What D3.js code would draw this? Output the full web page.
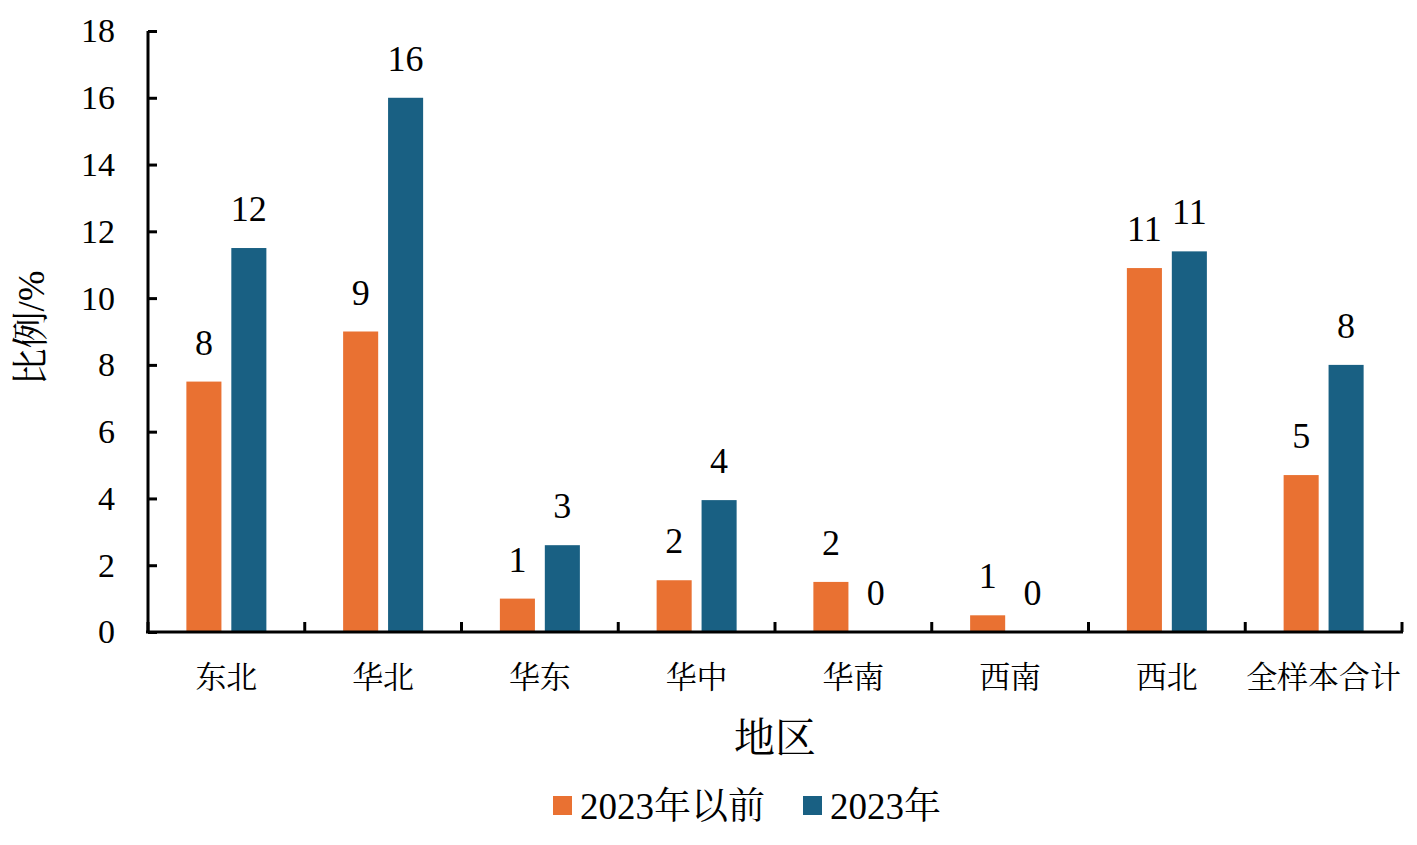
<!DOCTYPE html>
<html><head><meta charset="utf-8">
<script src="https://cdn.jsdelivr.net/npm/d3@7/dist/d3.min.js"></script>
<style>
body{margin:0;background:#fff}svg{display:block}
svg text{font-family:'Liberation Serif','Times New Roman',Tinos,'DejaVu Serif','Noto Serif',serif,'Noto Serif CJK SC','Noto Sans CJK SC';fill:#000}
</style>
</head><body><svg id="c" width="1417" height="845"></svg>
<script>
const categories = ["东北","华北","华东","华中","华南","西南","西北","全样本合计"];
const seriesNames = ["2023年以前","2023年"];
const before2023 = [7.5, 9.0, 1.0, 1.55, 1.5, 0.5, 10.9, 4.7];
const year2023 = [11.5, 16.0, 2.6, 3.95, 0, 0, 11.4, 8.0];
const labelsBefore = ["8","9","1","2","2","1","11","5"];
const labels2023 = ["12","16","3","4","0","0","11","8"];
const yTicks = [0,2,4,6,8,10,12,14,16,18];
const colors = ["#E97132","#196083"];

const svg = d3.select("#c");
const L = 148, R = 1402, T = 31, B = 632;
const x0 = d3.scaleBand().domain(categories).range([L, R]).paddingInner(0).paddingOuter(0);
const bw = x0.bandwidth();
const x1 = d3.scaleBand().domain(seriesNames).range([bw/2-40, bw/2+40]).paddingInner(0.22).paddingOuter(0);
const y = d3.scaleLinear().domain([0,18]).range([B, T]);

const data = categories.map((c,i)=>({c, vals:[
  {s:seriesNames[0], v:before2023[i], lab:labelsBefore[i], k:0},
  {s:seriesNames[1], v:year2023[i], lab:labels2023[i], k:1}]}));

const g = svg.append("g").selectAll("g").data(data).join("g")
  .attr("transform", d=>`translate(${x0(d.c)},0)`);
g.selectAll("rect").data(d=>d.vals).join("rect")
  .attr("x", d=>x1(d.s)).attr("width", x1.bandwidth())
  .attr("y", d=>y(d.v)).attr("height", d=>B-y(d.v))
  .attr("fill", d=>colors[d.k]);
g.selectAll("text").data(d=>d.vals).join("text")
  .attr("x", d=>x1(d.s)+x1.bandwidth()/2)
  .attr("y", d=>y(d.v)-27)
  .attr("text-anchor","middle")
  .style("font-size","36px")
  .text(d=>d.lab);

// y axis
const ya = svg.append("g").attr("transform",`translate(${L},0)`)
  .call(d3.axisLeft(y).tickValues(yTicks).tickSize(-9).tickPadding(33).tickSizeOuter(0));
ya.attr("font-family",null).attr("font-size",null);
ya.select(".domain").attr("stroke","#000").attr("stroke-width",3).attr("d",`M0,${T}V${B}`);
ya.selectAll(".tick line").attr("stroke","#000").attr("stroke-width",3);
ya.selectAll(".tick text").style("font-size","34px");

// x axis
const xa = svg.append("g").attr("transform",`translate(0,${B})`);
xa.append("line").attr("x1",L-2).attr("x2",R+1).attr("y1",0).attr("y2",0).attr("stroke","#000").attr("stroke-width",3);
const boundaries = categories.map(c=>x0(c)).concat([R]);
xa.selectAll(".bt").data(boundaries).join("line").attr("class","bt")
  .attr("x1",d=>d).attr("x2",d=>d).attr("y1",0).attr("y2",-10).attr("stroke","#000").attr("stroke-width",3);
xa.selectAll(".cl").data(categories).join("text").attr("class","cl")
  .attr("x",d=>x0(d)+bw/2).attr("y",56).attr("text-anchor","middle")
  .style("font-size","31px").text(d=>d);

// axis titles
svg.append("text").attr("x",775).attr("y",752).attr("text-anchor","middle")
  .style("font-size","41px").text("地区");
svg.append("text").attr("transform","translate(44,328) rotate(-90)").attr("text-anchor","middle")
  .style("font-size","37px").text("比例/%");

// legend
const leg = [{x:553, tx:580},{x:803, tx:830}];
seriesNames.forEach((s,i)=>{
  svg.append("rect").attr("x",leg[i].x).attr("y",796).attr("width",19).attr("height",19).attr("fill",colors[i]);
  svg.append("text").attr("x",leg[i].tx).attr("y",819).style("font-size","37px").text(s);
});
</script></body></html>
